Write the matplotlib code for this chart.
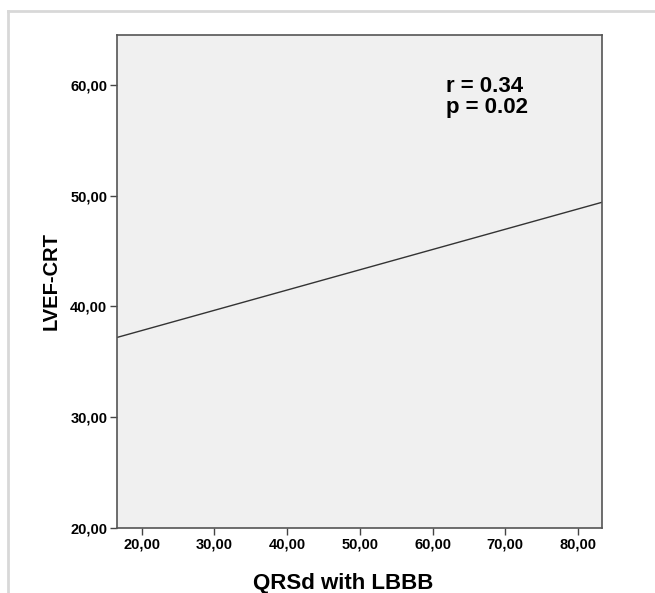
import numpy as np
import matplotlib
matplotlib.use("Agg")
import matplotlib.pyplot as plt
from matplotlib.lines import Line2D

plt.rcParams['font.family'] = ['Liberation Sans', 'DejaVu Sans']

# fit line (LVEF-CRT vs QRSd with LBBB)
x_fit = [16.6, 83.3]
y_fit = [37.2, 49.4]

x_ticks = [20, 30, 40, 50, 60, 70, 80]
y_ticks = [20, 30, 40, 50, 60]

r_text = "r = 0.34"
p_text = "p = 0.02"


def comma_fmt(v):
    return ("%.2f" % v).replace(".", ",")


fig = plt.figure(figsize=(6.55, 5.93), dpi=100)
ax = fig.add_axes([117/655, 1 - 528/593, (602 - 117)/655, (528 - 35)/593])

ax.set_facecolor('#f0f0f0')
ax.plot(x_fit, y_fit, color='#333333', lw=1.0)

ax.set_xlim(16.6, 83.3)
ax.set_ylim(20.0, 64.5)

ax.set_xticks(x_ticks)
ax.set_yticks(y_ticks)
ax.set_xticklabels([comma_fmt(v) for v in x_ticks], fontweight='bold', fontsize=10.5)
ax.set_yticklabels([comma_fmt(v) for v in y_ticks], fontweight='bold', fontsize=10.5)
ax.tick_params(direction='out', length=5, width=1, color='#444444', pad=2)

for s in ax.spines.values():
    s.set_color('#555555')
    s.set_linewidth(1.2)

ax.set_xlabel("QRSd with LBBB", fontweight='bold', fontsize=16)
ax.xaxis.set_label_coords((343 - 117) / 485, -(583 - 528) / 493)
ax.xaxis.label.set_va('center')
ax.set_ylabel("LVEF-CRT", fontweight='bold', fontsize=14.5)
ax.yaxis.set_label_coords(-(117 - 51) / 485, 0.5)
ax.yaxis.label.set_va('center')

ax.text(61.8, 59.4, r_text, fontsize=16, fontweight='bold', va='baseline', ha='left')
ax.text(61.8, 57.5, p_text, fontsize=16, fontweight='bold', va='baseline', ha='left')

# light frame around the chart (only left and top edges are visible)
fig.add_artist(Line2D([8/655, 8/655], [0, 1 - 11/593], color='#d8d8d8', lw=2,
                      transform=fig.transFigure))
fig.add_artist(Line2D([8/655, 1], [1 - 11/593, 1 - 11/593], color='#d8d8d8', lw=2,
                      transform=fig.transFigure))

fig.savefig("out.png", dpi=100, facecolor='white')
